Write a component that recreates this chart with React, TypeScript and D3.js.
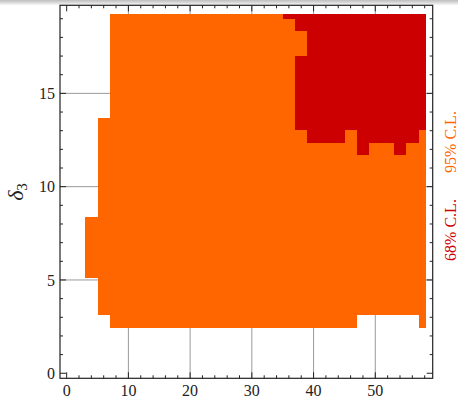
import React from "react";
import * as d3 from "d3";

// Grid cell edges (data units)
const xEdges = [3, 5, 7, 9, 11, 13, 15, 17, 19, 21, 23, 25, 27, 29, 31, 33, 35, 37, 39, 41, 43, 45, 47, 49, 51, 53, 55, 57, 58.1];
const yEdges = [2.44, 3.1, 3.76, 4.42, 5.09, 5.75, 6.41, 7.07, 7.73, 8.39, 9.06, 9.72, 10.38, 11.04, 11.7, 12.36, 13.03, 13.69, 14.35, 15.01, 15.67, 16.33, 17.0, 17.66, 18.32, 18.98, 19.28];

// 95% C.L. region: per column [from yEdge index, to yEdge index]
const cl95: [number, number][] = [
  [4, 9], [1, 17],
  [0, 26], [0, 26], [0, 26], [0, 26], [0, 26], [0, 26], [0, 26], [0, 26], [0, 26], [0, 26],
  [0, 26], [0, 26], [0, 26], [0, 26], [0, 26], [0, 26], [0, 26], [0, 26], [0, 26], [0, 26],
  [1, 26], [1, 26], [1, 26], [1, 26], [1, 26],
  [0, 26],
];

// 68% C.L. region: per column, list of [from, to] yEdge index segments
const cl68: [number, number][][] = [
  [], [], [], [], [], [], [], [], [], [], [], [], [], [], [], [],
  [[25, 26]],
  [[16, 22], [24, 26]],
  [[15, 26]], [[15, 26]], [[15, 26]],
  [[16, 26]],
  [[14, 26]],
  [[15, 26]], [[15, 26]],
  [[14, 26]],
  [[15, 26]],
  [[16, 26]],
];

const xMajor = [0, 10, 20, 30, 40, 50];
const xMinor = d3.range(0, 59, 2);
const yMajor = [0, 5, 10, 15];
const yMinor = d3.range(0, 20, 1);
const xGrid = [10, 20, 30, 40, 50];
const yGrid = [5, 10, 15];

const C95 = "#ff6600";
const C68 = "#cc0000";

export default function App() {
  const W = 458, H = 398;
  const x = d3.scaleLinear().domain([-1.08, 59.3]).range([60, 432.7]);
  const y = d3.scaleLinear().domain([-0.27, 19.72]).range([378.3, 5.3]);
  const [x0, x1] = x.range();
  const [y0, y1] = y.range();
  const font = "'Liberation Serif', 'Times New Roman', serif";

  const rects: JSX.Element[] = [];
  cl95.forEach(([a, b], c) => {
    rects.push(
      <rect key={`o${c}`} x={x(xEdges[c])} width={x(xEdges[c + 1]) - x(xEdges[c]) + 0.3}
        y={y(yEdges[b])} height={y(yEdges[a]) - y(yEdges[b])} fill={C95} />
    );
  });
  cl68.forEach((segs, c) => {
    segs.forEach(([a, b], i) => {
      rects.push(
        <rect key={`r${c}_${i}`} x={x(xEdges[c])} width={x(xEdges[c + 1]) - x(xEdges[c]) + 0.3}
          y={y(yEdges[b])} height={y(yEdges[a]) - y(yEdges[b])} fill={C68} />
      );
    });
  });

  return (
    <svg width={W} height={H} style={{ position: "absolute", left: 0, top: 0, background: "#fff" }}>
      <defs>
        <linearGradient id="topband" x1="0" y1="0" x2="0" y2="1">
          <stop offset="0" stopColor="#bdbdbd" />
          <stop offset="1" stopColor="#f6f6f6" />
        </linearGradient>
      </defs>
      <rect x={0} y={0} width={W} height={H} fill="#fff" />
      <rect x={0} y={0} width={W} height={5} fill="url(#topband)" />
      {/* grid */}
      {xGrid.map((v) => (
        <line key={`gx${v}`} x1={x(v)} x2={x(v)} y1={y0} y2={y1} stroke="#9a9a9a" strokeWidth={1} />
      ))}
      {yGrid.map((v) => (
        <line key={`gy${v}`} x1={x0} x2={x1} y1={y(v)} y2={y(v)} stroke="#9a9a9a" strokeWidth={1} />
      ))}
      {/* regions */}
      <g shapeRendering="crispEdges">{rects}</g>
      {/* frame */}
      <rect x={x0} y={y1} width={x1 - x0} height={y0 - y1} fill="none" stroke="#222" strokeWidth={1.2} />
      {/* ticks */}
      {xMinor.map((v) => {
        const len = xMajor.includes(v) ? 6 : 3;
        return (
          <g key={`tx${v}`} stroke="#222" strokeWidth={1}>
            <line x1={x(v)} x2={x(v)} y1={y0} y2={y0 - len} />
            <line x1={x(v)} x2={x(v)} y1={y1} y2={y1 + len} />
          </g>
        );
      })}
      {yMinor.map((v) => {
        const len = yMajor.includes(v) ? 6 : 3;
        return (
          <g key={`ty${v}`} stroke="#222" strokeWidth={1}>
            <line x1={x0} x2={x0 + len} y1={y(v)} y2={y(v)} />
            <line x1={x1} x2={x1 - len} y1={y(v)} y2={y(v)} />
          </g>
        );
      })}
      {/* tick labels */}
      {xMajor.map((v) => (
        <text key={`lx${v}`} x={x(v)} y={396} textAnchor="middle" fontFamily={font} fontSize={16} fill="#222">{v}</text>
      ))}
      {yMajor.map((v) => (
        <text key={`ly${v}`} x={55} y={y(v)} dy="0.35em" textAnchor="end" fontFamily={font} fontSize={16} fill="#222">{v}</text>
      ))}
      {/* axis label */}
      <text transform={`translate(23,192) rotate(-90)`} textAnchor="middle" fontFamily={font} fontSize={22} fill="#222">
        <tspan fontStyle="italic">δ</tspan>
        <tspan fontSize={15} dy={4}>3</tspan>
      </text>
      {/* legend labels */}
      <text transform={`translate(456,230) rotate(-90)`} textAnchor="middle" fontFamily={font} fontSize={16} fill={C68}>68% C.L.</text>
      <text transform={`translate(456,142) rotate(-90)`} textAnchor="middle" fontFamily={font} fontSize={16} fill={C95}>95% C.L.</text>
    </svg>
  );
}
